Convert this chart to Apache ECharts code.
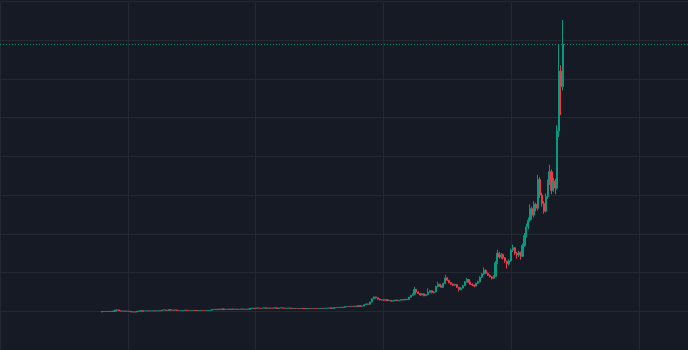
<!DOCTYPE html>
<html>
<head>
<meta charset="utf-8">
<script src="https://cdn.jsdelivr.net/npm/echarts@6/dist/echarts.min.js"></script>
<style>
html,body{margin:0;padding:0;background:#161a25;}
#chart{width:688px;height:350px;}
</style>
</head>
<body>
<div id="chart"></div>
<script>
// candles: [open, close, low, high]
const candles = [
[9.80,9.95,9.75,10.0],[9.95,9.92,9.88,9.98],[9.92,9.95,9.90,9.98],[9.95,9.97,9.92,10.0],[9.97,9.95,9.92,10.0],
[9.95,10.0,9.93,10.03],[10.0,9.98,9.95,10.02],[9.98,10.3,9.96,10.33],[10.3,10.35,10.27,10.4],[10.35,10.1,10.08,10.38],
[10.1,10.05,10.02,10.12],[10.05,10.05,10.02,10.08],[10.05,10.0,9.97,10.07],[10.0,10.02,9.98,10.05],[10.02,9.98,9.95,10.04],
[9.98,9.8,9.77,10.0],[9.8,9.85,9.76,9.88],[9.85,9.78,9.74,9.88],[9.78,10.0,9.76,10.03],[10.0,10.05,9.98,10.08],
[10.05,10.1,10.03,10.13],[10.1,10.05,10.02,10.12],[10.05,10.08,10.03,10.1],[10.08,10.1,10.05,10.13],[10.1,10.06,10.04,10.12],
[10.06,10.1,10.04,10.12],[10.1,10.12,10.08,10.15],[10.12,10.08,10.05,10.14],[10.08,10.1,10.06,10.12],[10.1,10.14,10.08,10.17],
[10.14,10.1,10.07,10.16],[10.1,10.3,10.08,10.33],[10.3,10.35,10.27,10.38],[10.35,10.2,10.17,10.37],[10.2,10.25,10.17,10.28],
[10.25,10.4,10.22,10.43],[10.4,10.3,10.27,10.42],[10.3,10.25,10.22,10.32],[10.25,10.35,10.22,10.37],[10.35,10.2,10.17,10.37],
[10.2,10.18,10.15,10.22],[10.18,10.2,10.16,10.22],[10.2,10.22,10.18,10.25],[10.22,10.3,10.2,10.33],[10.3,10.2,10.17,10.32],
[10.2,10.18,10.15,10.22],[10.18,10.2,10.16,10.22],[10.2,10.24,10.18,10.26],[10.24,10.2,10.18,10.26],[10.2,10.18,10.15,10.22],
[10.18,10.2,10.16,10.22],[10.2,10.22,10.18,10.24],[10.22,10.2,10.18,10.24],[10.2,10.19,10.16,10.22],[10.19,10.2,10.17,10.22],
[10.2,10.22,10.18,10.24],[10.22,10.25,10.2,10.28],[10.25,10.45,10.23,10.48],[10.45,10.5,10.42,10.53],[10.5,10.4,10.37,10.52],
[10.4,10.55,10.38,10.58],[10.55,10.45,10.42,10.57],[10.45,10.6,10.43,10.63],[10.6,10.45,10.42,10.62],[10.45,10.5,10.43,10.52],
[10.5,10.55,10.48,10.58],[10.55,10.45,10.42,10.57],[10.45,10.6,10.43,10.62],[10.6,10.5,10.47,10.62],[10.5,10.55,10.48,10.57],
[10.55,10.48,10.45,10.57],[10.48,10.52,10.46,10.54],[10.52,10.6,10.5,10.62],[10.6,10.5,10.47,10.62],[10.5,10.55,10.48,10.57],
[10.55,10.5,10.47,10.57],[10.5,10.6,10.48,10.62],[10.6,10.75,10.58,10.78],[10.75,10.8,10.72,10.83],[10.8,10.7,10.67,10.82],
[10.7,10.85,10.68,10.88],[10.85,10.8,10.77,10.87],[10.8,10.75,10.72,10.82],[10.75,10.8,10.73,10.82],[10.8,10.9,10.78,10.93],
[10.9,10.75,10.72,10.92],[10.75,10.85,10.73,10.87],[10.85,10.8,10.77,10.87],[10.8,10.78,10.75,10.82],[10.78,10.9,10.76,10.93],
[10.9,10.8,10.77,10.92],[10.8,10.75,10.72,10.82],[10.75,10.85,10.73,10.87],[10.85,10.9,10.83,10.93],[10.9,10.8,10.77,10.92],
[10.8,10.75,10.72,10.82],[10.75,10.8,10.73,10.82],[10.8,10.85,10.78,10.87],[10.85,10.7,10.67,10.87],[10.7,10.75,10.68,10.77],
[10.75,10.7,10.67,10.77],[10.7,10.72,10.68,10.74],[10.72,10.7,10.68,10.74],[10.7,10.75,10.68,10.77],[10.75,10.7,10.67,10.77],
[10.7,10.68,10.65,10.72],[10.68,10.7,10.66,10.72],[10.7,10.72,10.68,10.74],[10.72,10.7,10.68,10.74],[10.7,10.71,10.68,10.73],
[10.71,10.7,10.68,10.73],[10.7,10.69,10.66,10.72],[10.69,10.7,10.67,10.72],[10.7,10.73,10.68,10.75],[10.73,10.7,10.68,10.75],
[10.7,10.75,10.68,10.77],[10.75,10.8,10.73,10.82],[10.8,10.85,10.78,10.87],[10.85,10.8,10.77,10.87],[10.8,10.78,10.75,10.82],
[10.78,10.85,10.76,10.87],[10.85,10.95,10.83,10.98],[10.95,11.0,10.93,11.03],[11.0,10.95,10.92,11.02],[10.95,11.05,10.93,11.08],
[11.05,11.0,10.97,11.07],[11.0,11.2,10.98,11.23],[11.2,11.25,11.17,11.28],[11.25,11.2,11.17,11.27],[11.2,11.3,11.18,11.33],
[11.3,11.25,11.22,11.32],[11.25,11.35,11.23,11.38],[11.35,11.2,11.17,11.37],[11.2,11.4,11.18,11.43],[11.4,11.3,11.27,11.42],
[11.3,11.35,11.28,11.38],[11.35,11.7,11.3,11.8],[11.7,11.9,11.65,12.0],[11.9,11.8,11.7,11.95],[11.8,12.4,11.75,12.5],
[12.4,13.2,12.3,13.3],[13.2,13.7,13.1,13.8],[13.7,13.5,13.3,13.75],[13.5,13.1,13.0,13.55],[13.1,12.9,12.8,13.2],
[12.9,13.0,12.8,13.1],[13.0,12.8,12.7,13.05],[12.8,12.95,12.7,13.0],[12.95,12.75,12.6,13.0],[12.75,12.8,12.65,12.9],
[12.8,12.6,12.5,12.85],[12.6,12.75,12.55,12.8],[12.75,12.9,12.7,12.95],[12.9,12.7,12.6,12.95],[12.7,12.85,12.65,12.9],
[12.85,13.0,12.8,13.1],[13.0,12.9,12.8,13.05],[12.9,13.1,12.85,13.2],[13.1,13.0,12.9,13.15],[13.0,13.6,12.95,13.7],
[13.6,14.1,13.5,14.2],[14.1,14.4,14.0,14.6],[14.4,15.6,14.3,16.3],[15.6,15.0,14.9,15.8],[15.0,14.6,14.4,15.1],
[14.6,14.2,14.0,14.7],[14.2,14.5,14.1,14.7],[14.5,14.0,13.9,14.6],[14.0,14.3,13.9,14.4],[14.3,14.9,14.2,15.9],
[14.9,15.3,14.7,15.5],[15.3,14.8,14.6,15.4],[14.8,15.0,14.6,15.2],[15.0,16.4,14.9,16.6],[16.4,17.0,16.2,17.6],
[17.0,16.5,16.3,17.1],[16.5,16.2,16.0,16.7],[16.2,17.2,16.1,17.4],[17.2,18.6,17.0,19.4],[18.6,18.0,17.8,18.8],
[18.0,17.4,17.2,18.1],[17.4,17.0,16.8,17.5],[17.0,16.7,16.5,17.1],[16.7,16.9,16.5,17.1],[16.9,16.2,16.0,17.0],
[16.2,15.6,15.1,16.3],[15.6,16.0,15.4,16.2],[16.0,16.6,15.9,16.8],[16.6,17.6,16.5,17.8],[17.6,18.2,17.4,18.6],
[18.2,17.5,17.3,18.3],[17.5,17.0,16.8,17.6],[17.0,16.8,16.5,17.2],[16.8,16.5,16.2,16.9],[16.5,17.2,16.4,17.4],
[17.2,17.6,17.0,17.9],[17.6,18.8,17.5,19.0],[18.8,19.6,18.6,19.9],[19.6,20.6,19.4,21.3],[20.6,19.8,19.6,20.8],
[19.8,19.3,19.1,20.0],[19.3,18.9,18.7,19.5],[18.9,18.5,18.2,19.1],[18.5,19.0,18.3,19.3],[19.0,22.5,18.9,23.0],
[22.5,25.0,22.2,25.9],[25.0,24.0,23.6,25.3],[24.0,24.6,23.5,25.0],[24.6,23.8,23.4,24.9],[23.8,22.9,22.5,24.0],
[22.9,22.2,21.0,23.1],[22.2,23.0,21.8,23.4],[23.0,25.8,22.8,26.2],[25.8,26.4,25.3,27.2],[26.4,25.0,24.6,26.6],
[25.0,24.5,23.6,25.3],[24.5,25.2,24.0,25.6],[25.2,24.2,23.3,25.4],[24.2,27.0,24.0,27.5],[27.0,29.5,26.6,30.2],
[29.5,31.8,29.0,32.6],[31.8,33.5,31.2,34.2],[33.5,36.5,33.0,37.6],[36.5,34.8,33.6,37.0],[34.8,37.6,34.2,38.4],
[37.6,36.6,35.8,38.0],[36.6,44.0,36.0,45.2],[44.0,40.0,39.2,44.6],[40.0,37.8,37.0,40.6],[37.8,35.8,35.2,38.4],
[35.8,39.6,35.5,40.4],[39.6,43.2,39.0,44.0],[43.2,46.0,42.6,47.8],[46.0,41.2,40.2,46.6],[41.2,43.6,40.8,44.4],
[43.6,41.8,40.2,44.2],[41.8,56.5,41.4,58.0],[56.5,72.0,55.0,78.7],[72.0,68.0,60.6,73.5],[68.0,78.87,67.0,85.2]
];
const categories = candles.map((_, i) => String(i));
const yTicks = { min: 0, max: 90, step: 10 };
const timeTicks = { min: 0, max: 688, step: 127.75 };
const lastClose = candles[candles.length - 1][1];

const UP = '#089981', DOWN = '#f23645', GRIDC = '#242834';

const chart = echarts.init(document.getElementById('chart'), null, { renderer: 'canvas' });
chart.setOption({
  backgroundColor: '#161a25',
  animation: false,
  grid: [
    { left: 0, width: 688, top: 1.3, height: 349.2, show: false },
    { left: 101, width: 463, top: 1.3, height: 349.2, show: false }
  ],
  xAxis: [
    { type: 'value', gridIndex: 0, min: timeTicks.min, max: timeTicks.max, interval: timeTicks.step,
      axisLine: { show: false }, axisTick: { show: false }, axisLabel: { show: false },
      splitLine: { show: true, lineStyle: { color: GRIDC, width: 1 } } },
    { type: 'category', gridIndex: 1, data: categories, boundaryGap: true, show: false }
  ],
  yAxis: [
    { type: 'value', gridIndex: 0, min: yTicks.min, max: yTicks.max, interval: yTicks.step,
      axisLine: { show: false }, axisTick: { show: false }, axisLabel: { show: false },
      splitLine: { show: true, lineStyle: { color: GRIDC, width: 1 } } },
    { type: 'value', gridIndex: 1, min: yTicks.min, max: yTicks.max, show: false, splitLine: { show: false } }
  ],
  series: [
    { type: 'line', xAxisIndex: 0, yAxisIndex: 0, silent: true, showSymbol: false,
      data: [[timeTicks.min, lastClose], [timeTicks.max, lastClose]],
      lineStyle: { color: UP, width: 1, type: [1, 2] } },
    { type: 'candlestick', xAxisIndex: 1, yAxisIndex: 1, data: candles, barWidth: 1.6,
      itemStyle: { color: UP, color0: DOWN, borderColor: UP, borderColor0: DOWN, borderWidth: 1 } }
  ]
});
</script>
</body>
</html>
